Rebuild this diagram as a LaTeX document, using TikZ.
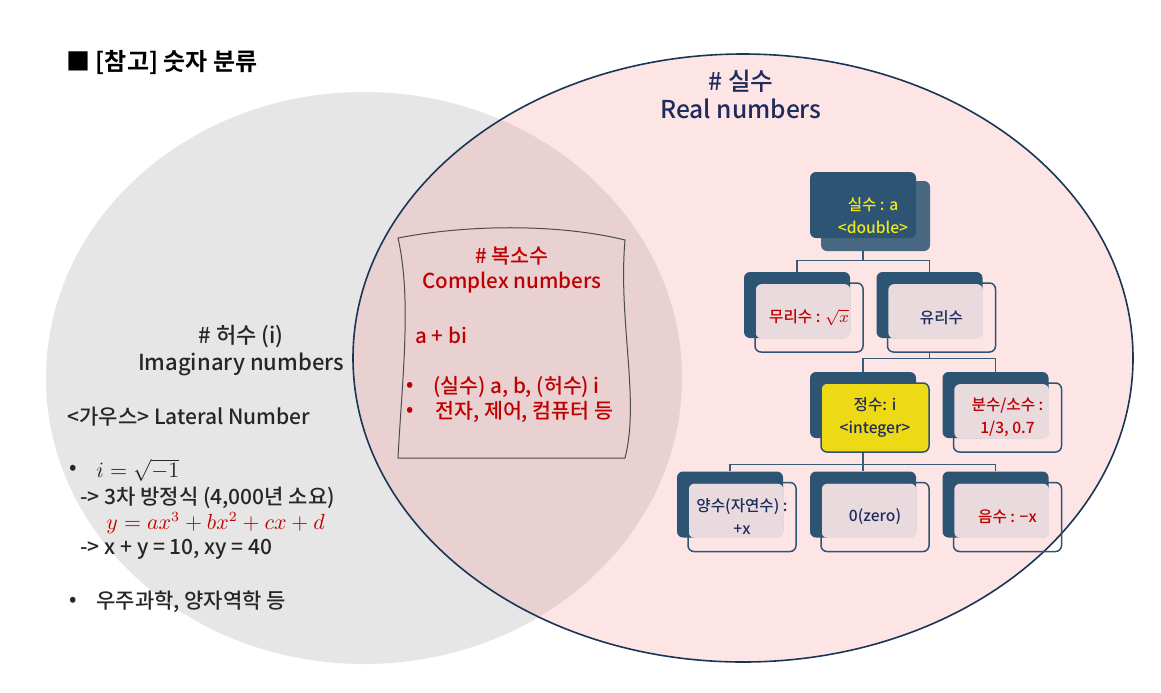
\documentclass[tikz,border=0pt]{standalone}
\usepackage{fontspec}
\setmainfont{Noto Sans CJK KR}[UprightFont={* Medium}, BoldFont={* Bold}]
\usetikzlibrary{positioning}
\definecolor{navyd}{RGB}{46,84,116}
\definecolor{navyl}{RGB}{72,104,130}
\definecolor{navyt}{RGB}{30,44,92}
\definecolor{redt}{RGB}{192,0,0}
\definecolor{panel}{RGB}{233,218,221}
\definecolor{ylw}{RGB}{238,218,20}
\definecolor{ytxt}{RGB}{242,232,20}
\definecolor{grayc}{RGB}{230,230,230}
\definecolor{pinkc}{RGB}{245,120,125}
\definecolor{rim}{RGB}{25,55,85}
\begin{document}
\begin{tikzpicture}[x=0.5pt, y=-0.5pt, font=\fontsize{10.5}{13}\selectfont, text=black!85,
  back/.style={fill=navyd, rounded corners=3pt, minimum width=53pt, minimum height=33pt, inner sep=0pt},
  front/.style={draw=navyd, line width=0.75pt, rounded corners=3pt, minimum width=54pt, minimum height=34.5pt,
    inner sep=1pt, align=center, font=\fontsize{7.8}{11.5}\selectfont, text=navyt},
  conn/.style={draw=navyd!85!gray, line width=0.7pt},
  txt/.style={anchor=west, inner sep=0pt},
  cplx/.style={text=redt, font=\fontsize{10.3}{12.5}\selectfont}]

\fill[white] (0,0) rectangle (1161,692);
\useasboundingbox (0,0) rectangle (1161,692);

\fill[grayc] (364,378) ellipse [x radius=159pt, y radius=143pt];
\filldraw[fill=pinkc, fill opacity=0.2, draw=rim, line width=0.8pt] (743,358) ellipse [x radius=195pt, y radius=152pt];

\node[txt, font=\fontsize{12}{14}\bfseries, text=black] (title) at (66,62) {■ [참고] 숫자 분류};
\node[align=center, text=navyt, font=\fontsize{12.3}{14}\selectfont] (realhd) at (741,94) {\# 실수\\Real numbers};
\node[align=center, font=\fontsize{11}{13.5}\selectfont] (imaghd) at (241,351) {\# 허수 (i)\\Imaginary numbers};

\node[txt] (gauss) at (67,417) {<가우스> Lateral Number};
\node (b1) at (73,470) {•};
\node[txt] (eq1) at (96,470) {$i = \sqrt{-1}$};
\node[txt] (cubic) at (80,498) {-> 3차 방정식 (4,000년 소요)};
\node[txt, text=redt] (poly) at (106,523) {$y = ax^3 + bx^2 + cx + d$};
\node[txt] (sumxy) at (80,549) {-> x + y = 10, xy = 40};
\node (b2) at (73,602) {•};
\node[txt] (phys) at (96,602) {우주과학, 양자역학 등};

\draw[black!70, line width=0.5pt] (398,238) .. controls (470,224) and (560,224) .. (625,240)
  .. controls (618,320) and (640,400) .. (625,458) -- (398,458)
  .. controls (402,380) and (412,300) .. (398,238) -- cycle;
\node[cplx, align=center] (cplxhd) at (512,270) {\# 복소수\\Complex numbers};
\node[cplx, txt] (abi) at (415,335) {a + bi};
\node[cplx] (b3) at (410,387) {•};
\node[cplx, txt] (parts) at (433,387) {(실수) a, b, (허수) i};
\node[cplx] (b4) at (410,412) {•};
\node[cplx, txt] (uses) at (435,412) {전자, 제어, 컴퓨터 등};

\node[back, fill=navyl, minimum width=54.5pt, minimum height=35pt] (realB) at (875.5,216) {};
\node[back] (realF) at (863,205) {};
\node[align=center, text=ytxt, font=\fontsize{7.8}{11.5}\selectfont] (realT) at (873,216) {실수 : a\\<double>};

\node[back] (irrB) at (797,305) {};
\fill[panel, rounded corners=3pt] ([shift={(12,12.5)}]irrB.north west) rectangle (irrB.south east);
\node[front, text=redt] (irrF) at (809,317.5) {무리수 : $\sqrt{x}$};

\node[back] (ratB) at (929.5,305) {};
\fill[panel, rounded corners=3pt] ([shift={(12,12.5)}]ratB.north west) rectangle (ratB.south east);
\node[front] (ratF) at (941.5,317.5) {유리수};

\node[back] (intB) at (863,405) {};
\node[front, fill=ylw] (intF) at (875,417.5) {정수: i\\<integer>};

\node[back] (fracB) at (995.5,405) {};
\fill[panel, rounded corners=3pt] ([shift={(12,12.5)}]fracB.north west) rectangle (fracB.south east);
\node[front, text=redt] (fracF) at (1007.5,417.5) {분수/소수 :\\1/3, 0.7};

\node[back] (posB) at (730,504.5) {};
\fill[panel, rounded corners=3pt] ([shift={(12,12.5)}]posB.north west) rectangle (posB.south east);
\node[front] (posF) at (742,517) {양수(자연수) :\\+x};

\node[back] (zeroB) at (863,504.5) {};
\fill[panel, rounded corners=3pt] ([shift={(12,12.5)}]zeroB.north west) rectangle (zeroB.south east);
\node[front] (zeroF) at (875,517) {0(zero)};

\node[back] (negB) at (995.5,504.5) {};
\fill[panel, rounded corners=3pt] ([shift={(12,12.5)}]negB.north west) rectangle (negB.south east);
\node[front, text=redt] (negF) at (1007.5,517) {음수 : −x};

\begin{scope}[conn]
\draw (realF.south |- realB.south) -- ++(0,9) -| (irrB.north);
\draw (realF.south |- realB.south) -- ++(0,9) -| (ratB.north);
\draw (ratB.south |- ratF.south) -- ++(0,6) -| (intB.north);
\draw (ratB.south |- ratF.south) -- ++(0,6) -| (fracB.north);
\draw (intB.south |- intF.south) -- ++(0,12) -| (posB.north);
\draw (intB.south |- intF.south) -- ++(0,12) -| (zeroB.north);
\draw (intB.south |- intF.south) -- ++(0,12) -| (negB.north);
\end{scope}
\end{tikzpicture}
\end{document}
